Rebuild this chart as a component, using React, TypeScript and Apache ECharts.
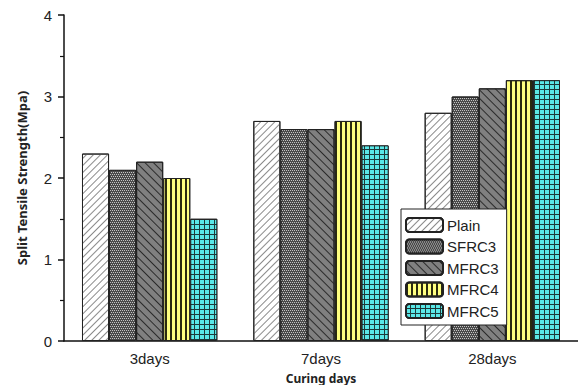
import React, { useEffect, useRef } from "react";
import * as echarts from "echarts";

const categories = ["3days", "7days", "28days"];
const seriesNames = ["Plain", "SFRC3", "MFRC3", "MFRC4", "MFRC5"];
const plain = [2.3, 2.7, 2.8];
const sfrc3 = [2.1, 2.6, 3.0];
const mfrc3 = [2.2, 2.6, 3.1];
const mfrc4 = [2.0, 2.7, 3.2];
const mfrc5 = [1.5, 2.4, 3.2];
const yTicks = [0, 1, 2, 3, 4];

const styles: any[] = [
  {
    color: "#ffffff",
    decal: { symbol: "rect", symbolSize: 1, color: "#8a8a8a", dashArrayX: [1, 0], dashArrayY: [1, 3.4], rotation: -Math.PI / 4 },
  },
  {
    color: "#4a4a4a",
    decal: { symbol: "rect", symbolSize: 1, color: "#c4c4c4", dashArrayX: [[1, 1], [0, 1, 1, 0]], dashArrayY: [1, 1], rotation: 0 },
  },
  {
    color: "#808080",
    decal: { symbol: "rect", symbolSize: 1, color: "#2a2a2a", dashArrayX: [1, 0], dashArrayY: [1, 4.5], rotation: Math.PI / 4 },
  },
  {
    color: "#ffff80",
    decal: { symbol: "rect", symbolSize: 1, color: "#2a2a10", dashArrayX: [1.4, 2.6], dashArrayY: [1, 0], rotation: 0 },
  },
  {
    color: "#1d3a3a",
    decal: { symbol: "rect", symbolSize: 1, color: "#5ae8e8", dashArrayX: [4, 1], dashArrayY: [3.6, 1], rotation: 0 },
  },
];

export default function App() {
  const ref = useRef<HTMLDivElement>(null);
  useEffect(() => {
    const chart = echarts.init(ref.current!, null, { renderer: "svg" });
    const data = [plain, sfrc3, mfrc3, mfrc4, mfrc5];
    chart.setOption({
      animation: false,
      backgroundColor: "#ffffff",
      grid: { left: 64, top: 15, right: 0, bottom: 44, outerBoundsMode: "none", containLabel: false },
      legend: {
        orient: "vertical",
        left: 401,
        top: 209,
        width: 107,
        padding: [8, 8, 6, 4],
        itemWidth: 37,
        itemHeight: 14,
        itemGap: 5.5,
        backgroundColor: "#fff",
        borderColor: "#222",
        borderWidth: 1,
        borderRadius: 0,
        textStyle: { fontFamily: "Liberation Sans", fontSize: 15, color: "#222", padding: [0, 0, 0, -1] },
        data: seriesNames,
      },
      xAxis: [
        {
          type: "category",
          data: categories,
          position: "bottom",
          axisLine: { lineStyle: { color: "#111", width: 1.5 } },
          axisTick: { alignWithLabel: true, length: 6, lineStyle: { color: "#111", width: 1.5 } },
          axisLabel: { fontFamily: "Liberation Sans", fontSize: 15, color: "#222", margin: 10 },
          name: "Curing days",
          nameLocation: "middle",
          nameGap: 31,
          nameTextStyle: { fontFamily: "Noto Sans", fontWeight: "bold", fontSize: 12, color: "#222" },
        },
        {
          type: "category",
          data: categories,
          position: "bottom",
          offset: 0,
          axisLine: { show: false },
          axisTick: { length: 4, lineStyle: { color: "#111", width: 1.2 } },
          axisLabel: { show: false },
        },
      ],
      yAxis: {
        type: "value",
        min: 0,
        max: 4,
        interval: 1,
        axisLine: { show: true, lineStyle: { color: "#111", width: 1.5 } },
        axisTick: { show: true, length: 6, lineStyle: { color: "#111", width: 1.5 } },
        minorTick: { show: true, splitNumber: 2, length: 4, lineStyle: { color: "#111", width: 1.2 } },
        splitLine: { show: false },
        axisLabel: {
          fontFamily: "Liberation Sans",
          fontSize: 15,
          color: "#222",
          margin: 12,
          formatter: (v: number) => (yTicks.includes(v) ? String(v) : ""),
        },
        name: "Split Tensile Strength(Mpa)",
        nameLocation: "middle",
        nameGap: 36,
        nameTextStyle: { fontFamily: "Noto Sans", fontWeight: "bold", fontSize: 13, color: "#222" },
      },
      series: seriesNames.map((name, i) => ({
        name,
        type: "bar",
        xAxisIndex: 0,
        data: data[i],
        barGap: "0%",
        barCategoryGap: "21%",
        itemStyle: { color: styles[i].color, decal: styles[i].decal, borderColor: "#222", borderWidth: 1 },
      })),
    });
    return () => chart.dispose();
  }, []);
  return (
    <div
      ref={ref}
      style={{ position: "fixed", left: 0, top: 0, width: 578, height: 385 }}
    />
  );
}
